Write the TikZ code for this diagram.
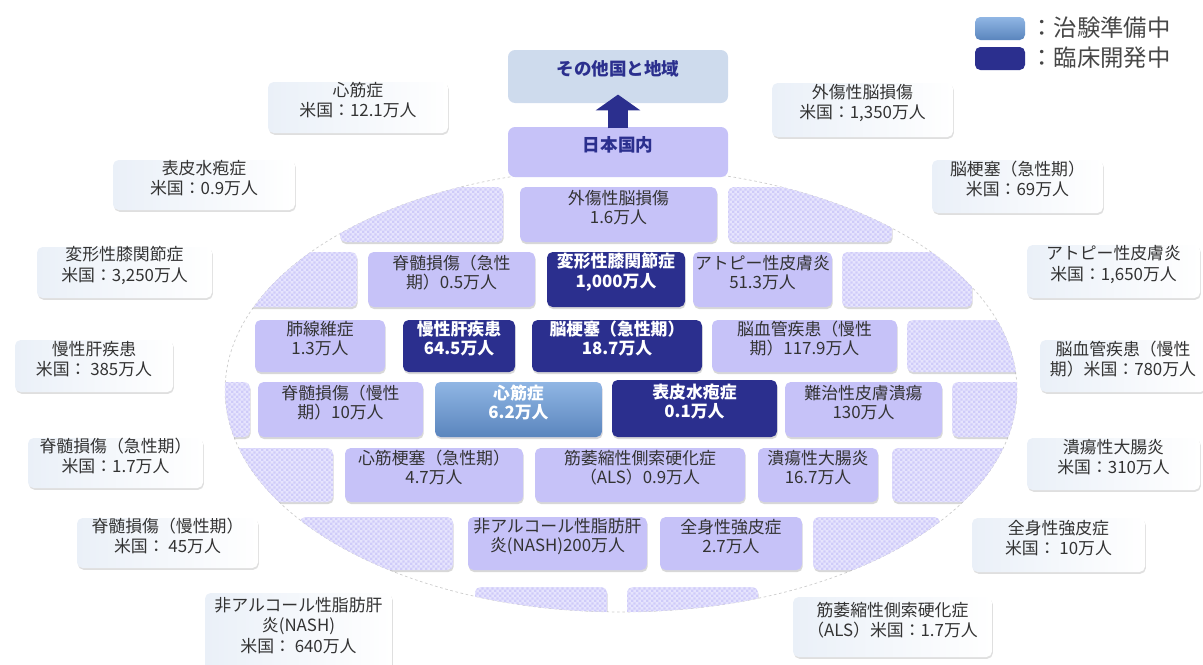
\documentclass[tikz,border=0pt]{standalone}
\usepackage{fontspec}
\setmainfont{Noto Sans CJK JP}
\usepackage{xcolor}
\usepackage{tikz}
\usetikzlibrary{arrows.meta,fit,patterns.meta,shadows}

\definecolor{tilecol}{HTML}{C6C2F8}
\definecolor{navycol}{HTML}{2B2F8E}
\definecolor{hatchA}{HTML}{E6E4FD}
\definecolor{hatchB}{HTML}{CFCBF9}
\definecolor{prepTop}{HTML}{90B6E4}
\definecolor{prepBot}{HTML}{5A85BD}
\definecolor{intlcol}{HTML}{CEDBED}
\definecolor{txtcol}{HTML}{333333}
\definecolor{usblue}{HTML}{C2D4EA}
\definecolor{usleft}{HTML}{EAF0F8}

\tikzdeclarepattern{
  name=finecheck,
  type=uncolored,
  bottom left={(0pt,0pt)},
  top right={(3pt,3pt)},
  tile size={(3pt,3pt)},
  code={\fill (0pt,0pt) rectangle (1.5pt,1.5pt); \fill (1.5pt,1.5pt) rectangle (3pt,3pt);}
}

\tikzset{
  tile/.style={rounded corners=3.2pt, inner sep=0pt, align=center, fill=tilecol, text=txtcol, font=\fontsize{9.6}{11}\selectfont, drop shadow={opacity=0.3, shadow xshift=0.4pt, shadow yshift=-1.2pt}},
  dark/.style={tile, fill=navycol, text=white, font=\fontsize{9.6}{11}\selectfont\bfseries},
  prep/.style={tile, top color=prepTop, bottom color=prepBot, text=white, font=\fontsize{9.6}{11}\selectfont\bfseries},
  blank/.style={tile, fill=hatchA, postaction={pattern=finecheck, pattern color=hatchB}},
  usbox/.style={rounded corners=3.2pt, inner sep=0pt, align=center, left color=usleft, middle color=usblue, right color=white, text=txtcol, font=\fontsize{9.6}{11.5}\selectfont, drop shadow={opacity=0.25, shadow xshift=0.5pt, shadow yshift=-1pt}},
  head/.style={rounded corners=4pt, inner sep=0pt, text=navycol, font=\fontsize{10}{11}\selectfont\bfseries},
  legtext/.style={anchor=west, inner sep=0pt, text=txtcol!90, font=\fontsize{13.3}{15}\selectfont}
}

\begin{document}
\begin{tikzpicture}[x=0.02cm, y=-0.02cm]
    \useasboundingbox (0,0) rectangle (1203,664);

    % legend
    \node[rounded corners=3pt, inner sep=0pt, top color=prepTop, bottom color=prepBot, fit={(975,17) (1025,40)}] (legprep) {};
    \node[legtext] (legprepT) at (1030,28) {：治験準備中};
    \node[rounded corners=3pt, inner sep=0pt, fill=navycol, fit={(975,47) (1025,70)}] (legdev) {};
    \node[legtext] (legdevT) at (1030,58) {：臨床開発中};

    % ellipse of tiles
    \draw[gray!40, dash pattern=on 1.5pt off 1.5pt, fill=white] (621,390) ellipse [x radius=7.92cm, y radius=4.44cm];
    \begin{scope}
    \clip (621,390) ellipse [x radius=7.92cm, y radius=4.44cm];
    \node[blank, fit={(340,187) (503,242)}] (b1) {};
    \node[tile, fit={(520,187) (717,242)}] (tbi) {外傷性脳損傷\\1.6万人};
    \node[blank, fit={(728,187) (892,242)}] (b2) {};

    \node[blank, fit={(230,252) (357,307)}] (b3) {};
    \node[tile, fit={(368,252) (535,307)}] (sciA) {脊髄損傷（急性\\期）0.5万人};
    \node[dark, fit={(547,252) (685,307)}] (oa) {変形性膝関節症\\1,000万人};
    \node[tile, fit={(693,252) (832,307)}] (ad) {アトピー性皮膚炎\\51.3万人};
    \node[blank, fit={(842,252) (972,307)}] (b4) {};

    \node[tile, fit={(255,320) (385,372)}] (ipf) {肺線維症\\1.3万人};
    \node[dark, fit={(403,320) (515,372)}] (cld) {慢性肝疾患\\64.5万人};
    \node[dark, fit={(532,320) (702,372)}] (strk) {脳梗塞（急性期）\\18.7万人};
    \node[tile, fit={(712,320) (897,372)}] (cvd) {脳血管疾患（慢性\\期）117.9万人};
    \node[blank, fit={(907,320) (1030,372)}] (b5) {};

    \node[blank, fit={(215,382) (250,437)}] (b6) {};
    \node[tile, fit={(258,382) (423,437)}] (sciC) {脊髄損傷（慢性\\期）10万人};
    \node[prep, fit={(435,382) (602,437)}] (cm) {心筋症\\6.2万人};
    \node[dark, fit={(612,380) (777,437)}] (eb) {表皮水疱症\\0.1万人};
    \node[tile, fit={(785,382) (942,437)}] (ulcer) {難治性皮膚潰瘍\\130万人};
    \node[blank, fit={(952,382) (1030,437)}] (b7) {};

    \node[blank, fit={(225,448) (333,502)}] (b8) {};
    \node[tile, fit={(345,448) (523,502)}] (mi) {心筋梗塞（急性期）\\4.7万人};
    \node[tile, fit={(535,448) (745,502)}] (als) {筋萎縮性側索硬化症\\（ALS）0.9万人};
    \node[tile, fit={(758,448) (878,502)}] (uc) {潰瘍性大腸炎\\16.7万人};
    \node[blank, fit={(892,448) (1025,502)}] (b9) {};

    \node[blank, fit={(300,517) (453,570)}] (b10) {};
    \node[tile, fit={(468,517) (647,570)}] (nash) {非アルコール性脂肪肝\\炎(NASH)200万人};
    \node[tile, fit={(660,517) (802,570)}] (ssc) {全身性強皮症\\2.7万人};
    \node[blank, fit={(813,517) (940,570)}] (b11) {};

    \node[blank, fit={(475,587) (607,625)}] (b12) {};
    \node[blank, fit={(627,587) (758,625)}] (b13) {};
    \end{scope}

    % domestic and overseas
    \node[head, fill=intlcol, fit={(508,50) (728,103)}] (intl) {その他国と地域};
    \node[head, fill=tilecol, fit={(508,127) (728,177)}] (jp) {日本国内};
    \draw[navycol, line width=11pt, -{Triangle[length=9pt, width=25pt]}, shorten <=-1pt, shorten >=-5pt] (jp.north) -- (intl.south);

    % US patients
    \node[usbox, fit={(268,82) (448,133)}] (us-cm) {心筋症\\米国：12.1万人};
    \node[usbox, fit={(113,160) (295,210)}] (us-eb) {表皮水疱症\\米国：0.9万人};
    \node[usbox, fit={(37,247) (212,298)}] (us-oa) {変形性膝関節症\\米国：3,250万人};
    \node[usbox, fit={(15,340) (173,392)}] (us-cld) {慢性肝疾患\\米国： 385万人};
    \node[usbox, fit={(28,438) (203,488)}] (us-sciA) {脊髄損傷（急性期）\\米国：1.7万人};
    \node[usbox, fit={(77,518) (258,568)}] (us-sciC) {脊髄損傷（慢性期）\\米国： 45万人};
    \node[usbox, fit={(205,593) (392,672)}] (us-nash) {非アルコール性脂肪肝\\炎(NASH)\\米国： 640万人};
    \node[usbox, fit={(772,83) (953,137)}] (us-tbi) {外傷性脳損傷\\米国：1,350万人};
    \node[usbox, fit={(932,160) (1103,213)}] (us-strk) {脳梗塞（急性期）\\米国：69万人};
    \node[usbox, fit={(1027,245) (1200,298)}] (us-ad) {アトピー性皮膚炎\\米国：1,650万人};
    \node[usbox, fit={(1040,340) (1206,392)}] (us-cvd) {脳血管疾患（慢性\\期）米国：780万人};
    \node[usbox, fit={(1027,438) (1200,490)}] (us-uc) {潰瘍性大腸炎\\米国：310万人};
    \node[usbox, fit={(972,518) (1145,572)}] (us-ssc) {全身性強皮症\\米国： 10万人};
    \node[usbox, fit={(793,597) (992,657)}] (us-als) {筋萎縮性側索硬化症\\（ALS）米国：1.7万人};
\end{tikzpicture}
\end{document}
